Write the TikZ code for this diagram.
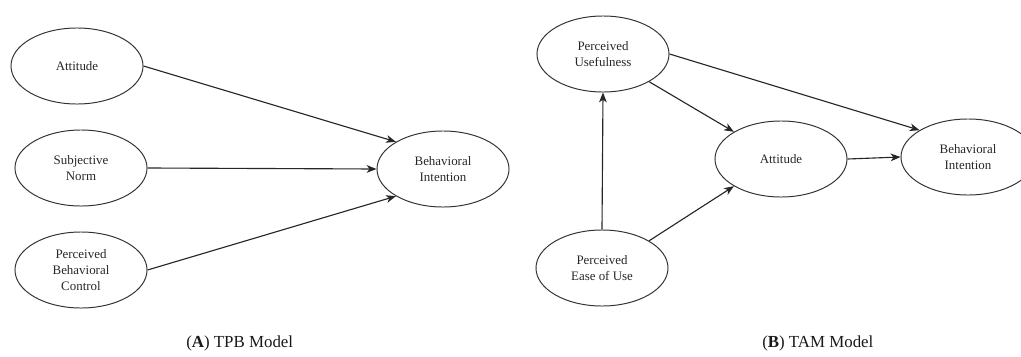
\documentclass[tikz,border=0pt]{standalone}
\usepackage{fontspec}
\setmainfont{Liberation Serif}
\usetikzlibrary{arrows.meta,shapes.geometric}

\begin{document}
\begin{tikzpicture}[x=0.025cm, y=-0.025cm,
  >={Stealth[length=7pt,width=5.5pt,inset=2pt]},
  construct/.style={ellipse, draw=black!80, line width=0.7pt, inner sep=0pt,
    minimum width=3.3cm, minimum height=1.9cm, align=center, text=black!85,
    font=\fontsize{9.2}{11.3}\selectfont},
  link/.style={->, line width=0.8pt, draw=black!85},
  caption/.style={anchor=west, inner sep=0pt, text=black!90,
    font=\fontsize{12}{14}\selectfont}]
  \useasboundingbox (0,0) rectangle (1021,356);

  % (A) TPB model
  \node[construct] (att)  at (77,66)   {Attitude};
  \node[construct] (sn)   at (81,168)  {Subjective\\ Norm};
  \node[construct] (pbc)  at (81,270)  {Perceived\\ Behavioral\\ Control};
  \node[construct] (bi)   at (443,169) {Behavioral\\ Intention};
  \draw[link] (att.east) -- (bi.150);
  \draw[link] (sn.east)  -- (bi.west);
  \draw[link] (pbc.east) -- (bi.210);

  % (B) TAM model
  \node[construct] (pu)   at (603,54)  {Perceived\\ Usefulness};
  \node[construct] (peu)  at (602,268) {Perceived\\ Ease of Use};
  \node[construct] (tatt) at (781,159) {Attitude};
  \node[construct, minimum width=3.35cm] (tbi) at (968,157) {Behavioral\\ Intention};
  \draw[link] (peu.north) -- (pu.south);
  \draw[link] (pu.-31)    -- (tatt.150);
  \draw[link] (pu.east)   -- (tbi.151);
  \draw[link] (tatt.east) -- (tbi.west);
  \draw[link] (peu.30)    -- (tatt.210);

  % captions
  \node[caption] (capa) at (186,343) {(\textbf{A}) TPB Model};
  \node[caption] (capb) at (762,343) {(\textbf{B}) TAM Model};
\end{tikzpicture}
\end{document}
